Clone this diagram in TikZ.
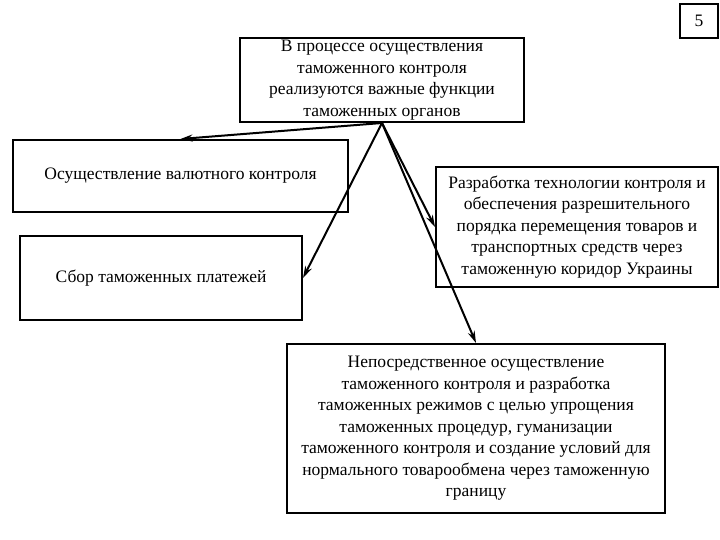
\documentclass[tikz,border=0pt]{standalone}
\usepackage{fontspec}
\setmainfont{Liberation Serif}
\usetikzlibrary{arrows.meta}
\begin{document}
\begin{tikzpicture}[x=1pt,y=-1pt,
  box/.style={draw=black,line width=2pt,fill=white,align=center,inner sep=0pt,
    font=\fontsize{17.5}{21.5}\selectfont},
  conn/.style={line width=2pt,-{Stealth[length=12pt,width=7pt]}}]
\useasboundingbox (0,0) rectangle (720,540);
\node[box,minimum width=284pt,minimum height=84pt] (top) at (382,80)
  {В процессе осуществления\\таможенного контроля\\реализуются важные функции\\таможенных органов};
\node[box,minimum width=335pt,minimum height=72pt] (b1) at (180.5,176)
  {Осуществление валютного контроля};
\node[box,minimum width=282pt,minimum height=84pt] (b2) at (161,278)
  {Сбор таможенных платежей};
\node[box,minimum width=282pt,minimum height=120pt] (b3) at (577,227)
  {Разработка технологии контроля и\\обеспечения разрешительного\\порядка перемещения товаров и\\транспортных средств через\\таможенную коридор Украины};
\node[box,minimum width=378pt,minimum height=169pt] (b4) at (476,428.5)
  {Непосредственное осуществление\\таможенного контроля и разработка\\таможенных режимов с целью упрощения\\таможенных процедур, гуманизации\\таможенного контроля и создание условий для\\нормального товарообмена через таможенную\\границу};
\node[box,minimum width=38pt,minimum height=34pt] (five) at (699,21) {5};
\draw[conn] (top.south) -- (b1.north);
\draw[conn] (top.south) -- (b2.east);
\draw[conn] (top.south) -- (b3.west);
\draw[conn] (top.south) -- (b4.north);
\end{tikzpicture}
\end{document}
